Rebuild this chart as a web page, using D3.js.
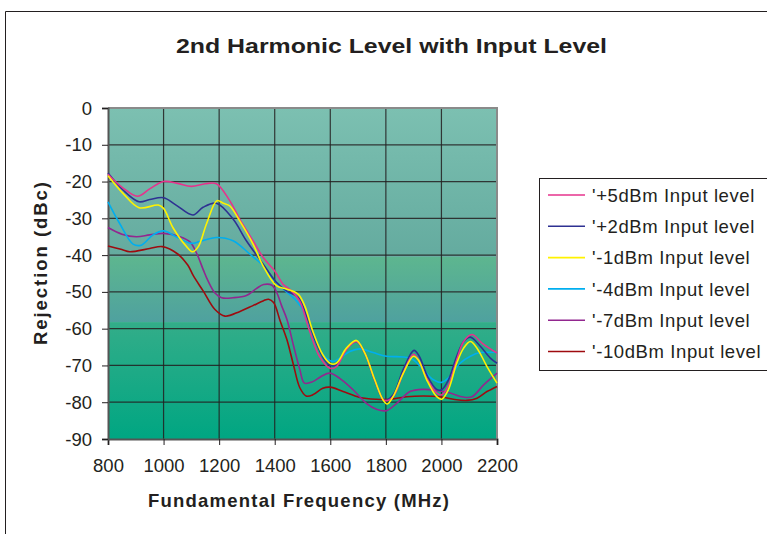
<!DOCTYPE html>
<html><head><meta charset="utf-8">
<script src="https://cdn.jsdelivr.net/npm/d3@7"></script>
<style>
html,body{margin:0;padding:0;background:#fff;}
svg{display:block;}
text{font-family:"Liberation Sans",Arial,sans-serif;fill:#231f20;}
</style></head>
<body><svg id="chart" width="767" height="534"></svg>
<script>
const title = "2nd Harmonic Level with Input Level";
const xTitle = "Fundamental Frequency (MHz)";
const yTitle = "Rejection (dBc)";
const xTicks = [800,1000,1200,1400,1600,1800,2000,2200];
const yTicks = [0,-10,-20,-30,-40,-50,-60,-70,-80,-90];
const seriesNames = ["'+5dBm Input level","'+2dBm Input level","'-1dBm Input level","'-4dBm Input level","'-7dBm Input level","'-10dBm Input level"];
const seriesColors = ["#e6338c","#2e3192","#fff200","#00aeef","#92278f","#9e0b0f"];

const p5 = [[800,-18],[850,-21.5],[906,-24],[950,-22],[1000,-20],[1050,-20.5],[1100,-21.3],[1150,-20.6],[1190,-20.6],[1238,-25.2],[1274,-30.2],[1322,-36.1],[1358,-40.6],[1400,-44.3],[1430,-47.9],[1460,-49.7],[1490,-52.5],[1525,-60.5],[1561,-67.5],[1600,-70.8],[1622,-70.3],[1658,-65.7],[1694,-63.5],[1724,-66.6],[1760,-74],[1795,-79.5],[1826,-78.5],[1863,-72],[1899,-67],[1917,-68.5],[1947,-73.5],[1983,-77.5],[2001,-78],[2025,-75.5],[2055,-68.5],[2080,-63.5],[2110,-61.6],[2146,-63.9],[2176,-65.5],[2200,-66.6]];
const p2 = [[800,-17.7],[854,-22.3],[912,-25.5],[950,-24.9],[1000,-24.4],[1045,-26.4],[1106,-29.1],[1142,-27],[1190,-25.9],[1250,-30.2],[1298,-36.1],[1358,-42.4],[1406,-47.4],[1442,-49.7],[1484,-51.5],[1514,-56.5],[1550,-64],[1580,-68.5],[1600,-70],[1622,-69.8],[1658,-65.5],[1694,-63.5],[1724,-66.6],[1760,-74],[1795,-79.5],[1826,-78],[1863,-71],[1901,-65.9],[1920,-67.5],[1950,-73],[1983,-76.5],[2001,-76.6],[2025,-74],[2055,-67.5],[2080,-63.5],[2104,-62.3],[2140,-64.8],[2176,-68],[2200,-69.4]];
const m1 = [[800,-18.4],[854,-23.2],[912,-27.1],[981,-26.4],[1000,-27.3],[1035,-32.7],[1083,-37.7],[1105,-39.1],[1125,-37.7],[1155,-31.4],[1192,-25.2],[1215,-25.9],[1238,-26.6],[1274,-30.7],[1322,-37],[1358,-42.9],[1406,-48.3],[1442,-49.2],[1484,-50.6],[1508,-53.8],[1537,-60.7],[1573,-67.1],[1600,-69.5],[1622,-69.4],[1658,-65.3],[1694,-63.2],[1724,-66.6],[1760,-73.9],[1790,-79.4],[1805,-80.5],[1826,-78.5],[1863,-72.1],[1899,-67.5],[1917,-68.5],[1947,-73.9],[1983,-78.5],[2001,-79.2],[2025,-76.6],[2055,-69.4],[2080,-65.3],[2104,-63.5],[2128,-65.3],[2164,-70.3],[2200,-74.8]];
const m4 = [[800,-25.5],[842,-31.4],[890,-37],[920,-37.3],[962,-34.5],[1000,-33.4],[1045,-35],[1099,-36.8],[1130,-36.3],[1190,-35.2],[1250,-36.1],[1310,-39.7],[1358,-42.9],[1394,-46.5],[1430,-49.2],[1478,-52.4],[1514,-56.5],[1549,-63.9],[1586,-68],[1610,-68.9],[1634,-68],[1670,-66.2],[1706,-65.5],[1754,-66.5],[1802,-67.5],[1863,-67.7],[1899,-68.5],[1935,-71.2],[1971,-73.9],[2001,-74.6],[2031,-73],[2067,-69.4],[2104,-67.5],[2140,-66.5],[2200,-66.5]];
const m7 = [[800,-32.5],[850,-34.3],[902,-35],[950,-34.5],[1000,-34.1],[1059,-35],[1095,-36.4],[1119,-39.5],[1143,-44],[1160,-47],[1185,-50.3],[1209,-51.6],[1250,-51.6],[1298,-51],[1334,-49.1],[1360,-48],[1390,-48.2],[1408,-50.3],[1425,-53.8],[1444,-57.5],[1468,-64.7],[1490,-71],[1507,-74.8],[1537,-74.4],[1567,-73],[1598,-72.1],[1634,-73.5],[1682,-76.6],[1730,-80.3],[1766,-81.9],[1802,-82.3],[1839,-80.3],[1887,-77.1],[1935,-76.5],[1983,-76.8],[2031,-77.5],[2079,-78.6],[2110,-78.5],[2152,-75.3],[2200,-72.1]];
const m10 = [[800,-37.5],[850,-38.5],[878,-39.1],[950,-38.2],[996,-37.7],[1051,-39.7],[1087,-42.7],[1107,-45.6],[1143,-49.8],[1185,-54.8],[1221,-56.6],[1275,-55.3],[1320,-53.8],[1360,-52.4],[1378,-52],[1396,-52.9],[1420,-58],[1444,-63],[1468,-70],[1490,-76],[1513,-78.3],[1537,-78],[1573,-76.2],[1600,-75.9],[1646,-77.1],[1706,-78.7],[1766,-79.2],[1814,-79.2],[1875,-78.5],[1935,-78.3],[1995,-78.5],[2043,-79.2],[2092,-79.5],[2128,-78.9],[2164,-77.1],[2200,-75.7]];
const seriesData = [p5,p2,m1,m4,m7,m10];

const svg = d3.select("#chart");
const L=108, R=497, T=108, B=439;
const x = d3.scaleLinear().domain([800,2200]).range([L,R]);
const y = d3.scaleLinear().domain([-90,0]).range([B,T]);

// outer frame
svg.append("path").attr("d","M5.5,534 V11.5 H767").attr("fill","none").attr("stroke","#231f20").attr("stroke-width",1);

// background bands
const defs = svg.append("defs");
const bands = [
  {from:0,to:-40.5,c0:"#7cc0b1",c1:"#64ab9f"},
  {from:-40.5,to:-58.2,c0:"#5db68f",c1:"#4fa19f"},
  {from:-58.2,to:-90,c0:"#33ad89",c1:"#00a682"}
];
bands.forEach((b,i)=>{
  const g = defs.append("linearGradient").attr("id","bg"+i).attr("x1",0).attr("y1",0).attr("x2",0).attr("y2",1);
  g.append("stop").attr("offset",0).attr("stop-color",b.c0);
  g.append("stop").attr("offset",1).attr("stop-color",b.c1);
  svg.append("rect").attr("x",L).attr("y",y(b.from)).attr("width",R-L).attr("height",y(b.to)-y(b.from)).attr("fill","url(#bg"+i+")");
});

// gridlines
svg.append("g").selectAll("line").data(yTicks.filter(d=>d!==0 && d!==-90)).join("line")
  .attr("x1",L).attr("x2",R).attr("y1",d=>y(d)).attr("y2",d=>y(d))
  .attr("stroke","#231f20").attr("stroke-width",1.2).attr("stroke-opacity",0.85);
svg.append("g").selectAll("line").data(xTicks.filter(d=>d!==800 && d!==2200)).join("line")
  .attr("x1",d=>x(d)).attr("x2",d=>x(d)).attr("y1",T).attr("y2",B)
  .attr("stroke","#231f20").attr("stroke-width",1.2).attr("stroke-opacity",0.85);

// plot border (top/right gray)
svg.append("path").attr("d",`M${L},${T} H${R} V${B}`).attr("fill","none").attr("stroke","#8a8a8a").attr("stroke-width",2);

// axes
const xAxis = svg.append("g").attr("transform",`translate(0,${B})`)
  .call(d3.axisBottom(x).tickValues(xTicks).tickSize(6).tickPadding(14).tickFormat(d=>String(d)));
const yAxis = svg.append("g").attr("transform",`translate(${L},0)`)
  .call(d3.axisLeft(y).tickValues(yTicks).tickSize(6).tickPadding(10).tickFormat(d=>String(d)));
[xAxis,yAxis].forEach(a=>{
  a.select(".domain").attr("stroke","#555").attr("stroke-width",2);
  a.selectAll(".tick line").attr("stroke","#231f20");
  a.selectAll(".tick text").attr("font-size",18.5).attr("font-family","Liberation Sans, Arial, sans-serif").attr("fill","#231f20");
});
xAxis.selectAll(".tick text").attr("dy","0.71em");
yAxis.selectAll(".tick text").attr("dy","0.33em");

// series
const line = d3.line().x(d=>x(d[0])).y(d=>y(d[1])).curve(d3.curveCatmullRom.alpha(0.5));
const order = [5,4,3,1,0,2];
svg.append("g").selectAll("path").data(order).join("path")
  .attr("d",i=>line(seriesData[i])).attr("fill","none")
  .attr("stroke",i=>seriesColors[i]).attr("stroke-width",1.6).attr("stroke-linejoin","round");

// titles
svg.append("text").attr("x",176).attr("y",53)
  .attr("font-size",21).attr("font-weight","bold")
  .attr("textLength",431).attr("lengthAdjust","spacingAndGlyphs").text(title);
svg.append("text").attr("x",148).attr("y",507)
  .attr("font-size",18.5).attr("font-weight","bold")
  .attr("textLength",301).attr("lengthAdjust","spacing").text(xTitle);
svg.append("text").attr("transform","translate(47,345) rotate(-90)")
  .attr("font-size",18.5).attr("font-weight","bold")
  .attr("textLength",163).attr("lengthAdjust","spacing").text(yTitle);

// legend
const lg = svg.append("g");
lg.append("rect").attr("x",539.5).attr("y",178.5).attr("width",230).attr("height",192)
  .attr("fill","#fff").attr("stroke","#231f20").attr("stroke-width",1);
const rows = lg.selectAll("g.row").data(seriesNames).join("g").attr("class","row")
  .attr("transform",(d,i)=>`translate(0,${195+i*31.3})`);
rows.append("line").attr("x1",548).attr("x2",585).attr("y1",0).attr("y2",0)
  .attr("stroke",(d,i)=>seriesColors[i]).attr("stroke-width",1.6);
rows.append("text").attr("x",592).attr("y",0).attr("dy","0.36em").attr("font-size",18.5)
  .attr("letter-spacing",0.6).text(d=>d);
</script></body></html>
